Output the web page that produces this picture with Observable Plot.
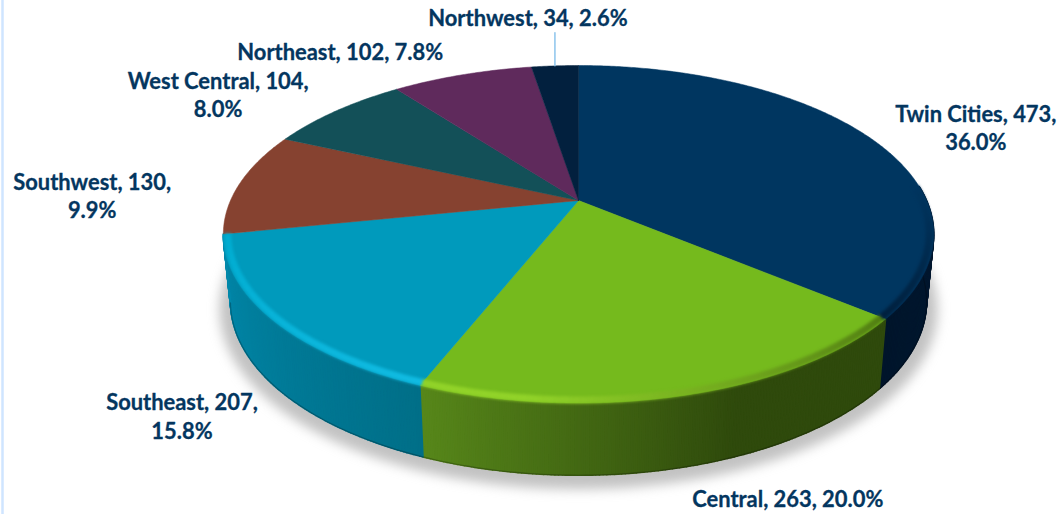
<!DOCTYPE html>
<html>
<head>
<meta charset="utf-8">
<style>html,body{margin:0;padding:0;background:#fff}svg{display:block}</style>
<script src="https://cdn.jsdelivr.net/npm/d3@7"></script>
<script src="https://cdn.jsdelivr.net/npm/@observablehq/plot@0.6"></script>
</head>
<body>
<div id="chart"></div>
<script>
// Data
const regions = ["Twin Cities", "Central", "Southeast", "Southwest", "West Central", "Northeast", "Northwest"];
const counts = [473, 263, 207, 130, 104, 102, 34];
const shares = ["36.0%", "20.0%", "15.8%", "9.9%", "8.0%", "7.8%", "2.6%"];
const wrapped = [true, false, true, true, true, false, false];

// Styles
const topColors = ["#003660", "#75BA1D", "#009ABC", "#864230", "#135058", "#5F2A5C", "#02203E"];
const sideFrom = ["#001a33", "#2f4a0c", "#006f88", "#6f3524", "#0e3c42", "#47204a", "#011830"];
const sideTo = ["#00152b", "#57871a", "#0088aa", "#6f3524", "#0e3c42", "#47204a", "#011830"];
const rimFrom = ["#003660", "#4f7a12", "#12bde4", "#7c3a28", "#135058", "#5F2A5C", "#02203E"];
const rimTo = ["#001f3c", "#93d42a", "#00aed2", "#8a4632", "#135058", "#5F2A5C", "#02203E"];
const labelOffsets = [[107, -10], [103, 103], [-90, 96], [-148, 12], [-118, -17], [-122, -24], [-27, -49]];
const leaderLength = 33;

// Pie geometry: a tilted disc seen in perspective
const persp = 0.2;
const topFace = {cx: 578, cy: 200, a: 348, b: 162};
const baseFace = {cx: 578, cy: 266, a: 341, b: 167};
const project = (f, deg, r = 1) => {
  const t = deg * Math.PI / 180, u = r * Math.sin(t), v = r * Math.cos(t), w = 1 + persp * v;
  return {x: f.cx + f.a * u / w, y: f.cy - f.b * v / w};
};
const total = d3.sum(counts);
const ends = Array.from(d3.cumsum(counts), c => c / total * 360);
const slices = regions.map((name, i) => ({
  name, i, start: i ? ends[i - 1] : 0, end: ends[i], mid: ((i ? ends[i - 1] : 0) + ends[i]) / 2
}));
const STEP = 0.5;
const FRONT_START = 85;
const FRONT_END = ends[2];
const angles = s => { const a = d3.range(s.start, s.end, STEP); a.push(s.end); return a; };

const topRows = slices.flatMap(s => [
  {id: s.name, color: topColors[s.i], x: topFace.cx, y: topFace.cy},
  ...angles(s).map(d => ({id: s.name, color: topColors[s.i], ...project(topFace, d)})),
  {id: s.name, color: topColors[s.i], x: topFace.cx, y: topFace.cy}
]);

const sideRows = [];
const rimRows = [];
for (const s of slices) {
  const a = angles(s);
  const from = Math.max(s.start, FRONT_START);
  for (let j = 0; j + 1 < a.length; j++) {
    const d0 = a[j], d1 = a[j + 1], mid = (d0 + d1) / 2;
    if (mid < FRONT_START || mid > FRONT_END) continue;
    const t = (mid - from) / (s.end - from);
    const eased = s.name === "Central" ? Math.max(0, (t - 0.4) / 0.6) : t;
    const sideColor = d3.interpolateRgb(sideFrom[s.i], sideTo[s.i])(eased);
    const rimColor = d3.interpolateRgb(rimFrom[s.i], rimTo[s.i])(s.name === "Central" ? Math.min(1, t * 1.25) : t);
    const id = s.name + j;
    [project(topFace, d0), project(topFace, d1), project(baseFace, d1), project(baseFace, d0), project(topFace, d0)]
      .forEach(p => sideRows.push({id, color: sideColor, ...p}));
    [d0, d1].forEach(d => rimRows.push({id, color: rimColor, ...project(topFace, d, 0.988)}));
  }
}
const shadowRows = d3.range(0, 360.5, 2).map(d => {
  const p = project(baseFace, d, 1.03);
  return {x: p.x, y: p.y + 6};
});
const edgeRows = d3.range(FRONT_START, FRONT_END, 1).map(d => project(baseFace, d, 1));

const labels = slices.map(s => {
  const p = project(topFace, s.mid), o = labelOffsets[s.i];
  return {
    x: p.x + o[0], y: p.y + o[1],
    text: `${s.name}, ${counts[s.i]},${wrapped[s.i] ? "\n" : " "}${shares[s.i]}`
  };
});
const nw = project(topFace, slices[6].mid);

const plot = Plot.plot({
  width: 1060, height: 514,
  margin: 0,
  x: {domain: [0, 1060], range: [0, 1060], axis: null},
  y: {domain: [0, 514], range: [0, 514], axis: null},
  color: {type: "identity"},
  style: {background: "#fff", overflow: "hidden"},
  marks: [
    Plot.ruleX([2], {stroke: "#cfe5ff", strokeWidth: 2.5}),
    Plot.line(shadowRows, {x: "x", y: "y", fill: "#9a9a9a", stroke: "none", fillOpacity: 0.6}),
    Plot.line(sideRows, {x: "x", y: "y", z: "id", fill: "color", stroke: "color", strokeWidth: 1.6}),
    Plot.line(edgeRows, {x: "x", y: "y", stroke: "#000", strokeOpacity: 0.25, strokeWidth: 1.2}),
    Plot.line(topRows, {x: "x", y: "y", z: "id", fill: "color", stroke: "color", strokeWidth: 0.5}),
    Plot.line(rimRows, {x: "x", y: "y", z: "id", stroke: "color", strokeWidth: 7, strokeLinecap: "butt"}),
    Plot.line([{x: nw.x, y: nw.y}, {x: nw.x, y: nw.y - leaderLength}], {x: "x", y: "y", stroke: "#8cc4ec", strokeWidth: 1.5}),
    Plot.text(labels, {
      x: "x", y: "y", text: "text", textAnchor: "middle", lineAnchor: "middle",
      fontFamily: "Lato", fontWeight: 700, fontSize: 21.9, lineHeight: 1.29, fill: "#04365f",
      stroke: "#04365f", strokeWidth: 0.3
    })
  ]
});
const groups = plot.querySelectorAll(":scope > g");
groups[1].style.filter = "blur(6px)";
groups[5].style.filter = "blur(1.6px)";
document.getElementById("chart").append(plot);
</script>
</body>
</html>
